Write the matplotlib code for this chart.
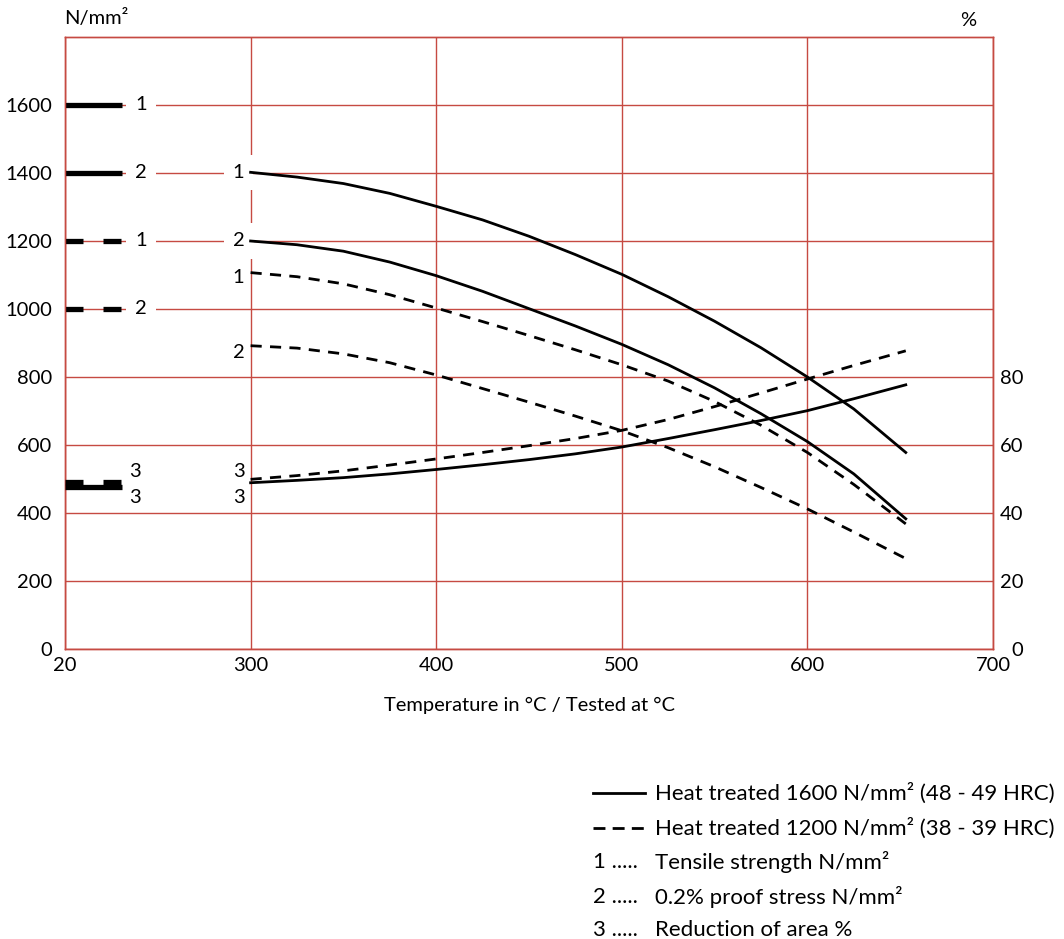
import matplotlib
matplotlib.use("Agg")
import matplotlib.pyplot as plt
from matplotlib.lines import Line2D

plt.rcParams['font.family'] = ['Lato', 'DejaVu Sans']

# ---------------- data ----------------
temps = [300, 325, 350, 375, 400, 425, 450, 475, 500, 525, 550, 575, 600, 625, 653]
tensile_1600 = [1402, 1388, 1369, 1340, 1302, 1262, 1214, 1160, 1102, 1036, 964, 886, 800, 706, 578]
proof_1600 = [1200, 1189, 1170, 1138, 1098, 1052, 1001, 950, 896, 836, 768, 692, 610, 515, 383]
tensile_1200 = [1107, 1095, 1074, 1042, 1003, 963, 922, 880, 836, 788, 728, 658, 578, 484, 368]
proof_1200 = [892, 885, 868, 842, 806, 766, 726, 685, 642, 592, 536, 475, 412, 344, 266]
reduction_1600 = [48.9, 49.6, 50.4, 51.5, 52.8, 54.2, 55.7, 57.4, 59.4, 61.9, 64.5, 67.2, 70.1, 73.6, 77.7]
reduction_1200 = [49.9, 51.0, 52.4, 54.1, 55.9, 57.8, 59.8, 61.9, 64.3, 67.5, 71.3, 75.3, 79.4, 83.4, 87.7]

# values at room temperature (20 °C), drawn as short bars at the left edge
room_temp_pos = 200           # the "20" tick sits at axis position 200
room_stress_1600 = [1600, 1400]   # tensile, proof
room_stress_1200 = [1200, 1000]
room_reduction_1600 = 47.7
room_reduction_1200 = 49.2

x_ticks = [200, 300, 400, 500, 600, 700]
x_tick_labels = ['20', '300', '400', '500', '600', '700']
y_ticks = [0, 200, 400, 600, 800, 1000, 1200, 1400, 1600]
y2_ticks = [0, 20, 40, 60, 80]

GRID = '#c64a42'
FS = 14.5
LFS = 16

fig = plt.figure(figsize=(10.64, 9.39), dpi=100)
ax = fig.add_axes([65/1064, 1-649/939, (993-65)/1064, (649-37)/939])
ax2 = ax.twinx()

ax.set_xlim(200, 700)
ax.set_ylim(0, 1800)
ax2.set_ylim(0, 180)

ax.set_xticks(x_ticks)
ax.set_xticklabels(x_tick_labels)
ax.set_yticks(y_ticks)
ax2.set_yticks(y2_ticks)
ax.tick_params(axis='x', length=0, labelsize=FS, pad=6)
ax.tick_params(axis='y', length=0, labelsize=FS, pad=9)
ax2.tick_params(length=0, labelsize=FS, pad=22)
for lab in ax2.get_yticklabels():
    lab.set_horizontalalignment('right')
ax.grid(True, color=GRID, lw=1.0)
ax.set_axisbelow(True)
for a in (ax, ax2):
    for s in a.spines.values():
        s.set_color(GRID)
        s.set_linewidth(1.0)

dash = (0, (4, 3))
lw = 2.0
ax.plot(temps, tensile_1600, color='black', lw=lw, zorder=3)
ax.plot(temps, proof_1600, color='black', lw=lw, zorder=3)
ax.plot(temps, tensile_1200, color='black', lw=lw, ls=dash, zorder=3)
ax.plot(temps, proof_1200, color='black', lw=lw, ls=dash, zorder=3)
ax2.plot(temps, reduction_1600, color='black', lw=lw, zorder=3)
ax2.plot(temps, reduction_1200, color='black', lw=lw, ls=dash, zorder=3)

# room temperature bars
bar_w = 57 / 1.8575
blw = 3.8
bdash = (0, (3.41, 3.79))
for v in room_stress_1600:
    ax.plot([room_temp_pos, room_temp_pos + bar_w], [v, v], color='black',
            lw=blw, solid_capstyle='butt', zorder=4, clip_on=False)
for v in room_stress_1200:
    ax.plot([room_temp_pos, room_temp_pos + bar_w], [v, v], color='black',
            lw=blw, ls=bdash, dash_capstyle='butt', zorder=4, clip_on=False)
ax2.plot([room_temp_pos, room_temp_pos + bar_w], [room_reduction_1600]*2, color='black',
         lw=blw, solid_capstyle='butt', zorder=4, clip_on=False)
ax2.plot([room_temp_pos, room_temp_pos + bar_w], [room_reduction_1200]*2, color='black',
         lw=blw, ls=bdash, dash_capstyle='butt', zorder=4, clip_on=False)

box = dict(boxstyle='square,pad=0.45', fc='white', ec='none')
# curve labels, left group
lx = 200 + (141 - 65) / 1.8575
for lab, v in zip(['1', '2'], room_stress_1600):
    ax.text(lx, v, lab, ha='center', va='center', fontsize=FS, bbox=box, zorder=2.5)
for lab, v in zip(['1', '2'], room_stress_1200):
    ax.text(lx, v, lab, ha='center', va='center', fontsize=FS, bbox=box, zorder=2.5)
lx3 = 200 + (135 - 65) / 1.8575
ax2.text(lx3, room_reduction_1200 + 3.0, '3', ha='center', va='center', fontsize=FS)
ax2.text(lx3, room_reduction_1600 - 3.0, '3', ha='center', va='center', fontsize=FS)

# curve labels at 300 °C
px = 300 - 12 / 1.8575
ax.text(px, tensile_1600[0], '1', ha='center', va='center', fontsize=FS, bbox=box, zorder=2.5)
ax.text(px, proof_1600[0], '2', ha='center', va='center', fontsize=FS, bbox=box, zorder=2.5)
ax.text(px, tensile_1200[0] - 15, '1', ha='center', va='center', fontsize=FS, zorder=2.5)
ax.text(px, proof_1200[0] - 20, '2', ha='center', va='center', fontsize=FS, zorder=2.5)
ax2.text(px, reduction_1200[0] + 2.2, '3', ha='center', va='center', fontsize=FS)
ax2.text(px, reduction_1600[0] - 4.4, '3', ha='center', va='center', fontsize=FS)

ax.set_xlabel('Temperature in °C / Tested at °C', fontsize=FS, labelpad=16)

fig.text(64/1064, 1-18/939, 'N/mm²', fontsize=FS, ha='left', va='center')
fig.text(968/1064, 1-20/939, '%', fontsize=FS, ha='center', va='center')

# legend
rows_y = [793, 828, 862, 897, 930]
def fy(p):
    return 1 - p / 939
fig.add_artist(Line2D([593/1064, 645/1064], [fy(rows_y[0])]*2, color='black', lw=2,
                      transform=fig.transFigure))
fig.add_artist(Line2D([593/1064, 645/1064], [fy(rows_y[1])]*2, color='black', lw=2,
                      ls=(0, (4.3, 2.6)), transform=fig.transFigure))
fig.text(655/1064, fy(rows_y[0]), 'Heat treated 1600 N/mm² (48 - 49 HRC)', fontsize=LFS, va='center')
fig.text(655/1064, fy(rows_y[1]), 'Heat treated 1200 N/mm² (38 - 39 HRC)', fontsize=LFS, va='center')
legend_nums = ['1', '2', '3']
legend_texts = ['Tensile strength N/mm²', '0.2% proof stress N/mm²', 'Reduction of area %']
for i, (n, t) in enumerate(zip(legend_nums, legend_texts)):
    y = fy(rows_y[2 + i])
    fig.text(593/1064, y, n + ' .....', fontsize=LFS, va='center')
    fig.text(655/1064, y, t, fontsize=LFS, va='center')

fig.savefig('out.png', dpi=100)
